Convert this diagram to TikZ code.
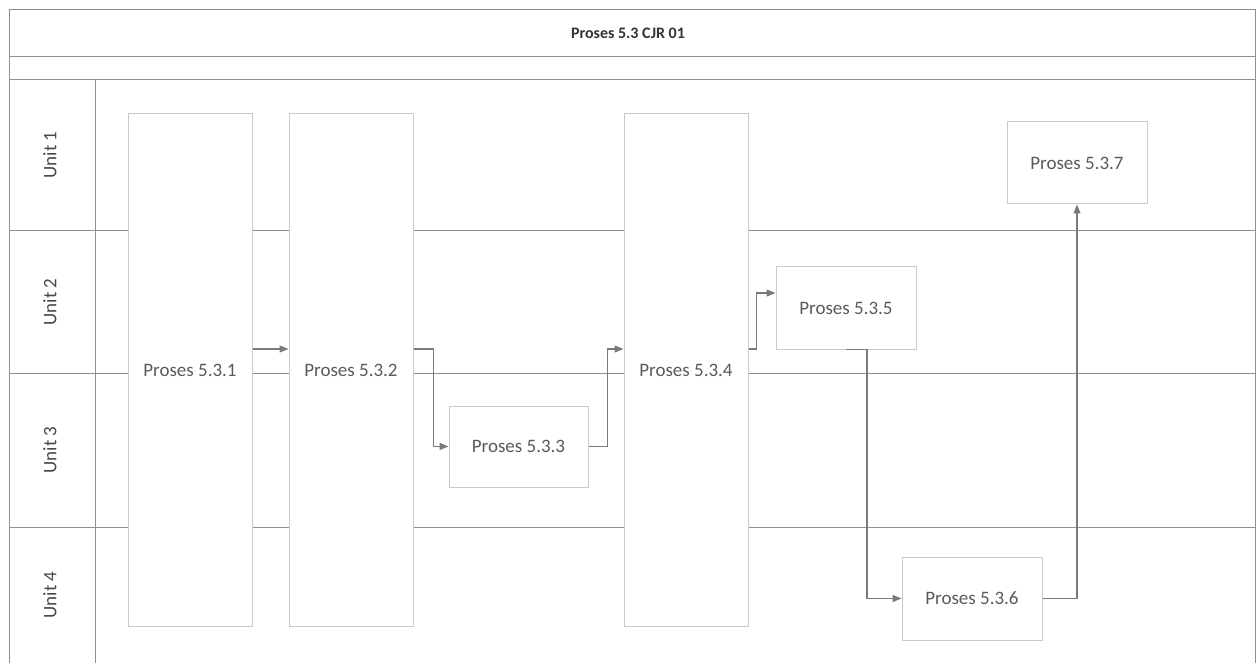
\documentclass[tikz,border=0pt]{standalone}
\usepackage{fontspec}
\setmainfont{Carlito}
\usetikzlibrary{arrows.meta}
\definecolor{lanegray}{HTML}{8E8E8E}
\definecolor{boxgray}{HTML}{CACACA}
\definecolor{arrgray}{HTML}{7A7A7A}
\definecolor{txtgray}{HTML}{5A5A5A}
\tikzset{
  lane/.style={draw=lanegray, line width=1pt},
  procbox/.style={draw=boxgray, fill=white, line width=1pt, inner sep=0pt,
    font=\fontsize{19}{23}\selectfont, text=txtgray},
  unitlabel/.style={rotate=90, font=\fontsize{19}{23}\selectfont, text=txtgray!80!black},
  arr/.style={draw=arrgray, line width=1.3pt, -{Triangle[length=9pt,width=7pt]}},
}
\begin{document}
\begin{tikzpicture}[x=1pt,y=-1pt]
\useasboundingbox (0,0) rectangle (1259,663);
% frame and lanes
\draw[lane] (9,663) -- (9,10) -- (1255,10) -- (1255,663);
\draw[lane] (9,57) -- (1255,57);
\draw[lane] (9,80) -- (1255,80);
\draw[lane] (95,80) -- (95,663);
\draw[lane] (9,231) -- (1255,231);
\draw[lane] (9,373) -- (1255,373);
\draw[lane] (9,527) -- (1255,527);
% title
\node[font=\fontsize{16}{19}\selectfont\bfseries, text=black!80] (title) at (628,33) {Proses 5.3 CJR 01};
% unit labels
\node[unitlabel] (u1) at (50,155) {Unit 1};
\node[unitlabel] (u2) at (50,302) {Unit 2};
\node[unitlabel] (u3) at (50,450) {Unit 3};
\node[unitlabel] (u4) at (50,595) {Unit 4};
% process boxes
\node[procbox, minimum width=124pt, minimum height=512pt] (p1) at (190,370) {Proses 5.3.1};
\node[procbox, minimum width=124pt, minimum height=512pt] (p2) at (351,370) {Proses 5.3.2};
\node[procbox, minimum width=139pt, minimum height=81pt] (p3) at (518.5,446.5) {Proses 5.3.3};
\node[procbox, minimum width=124pt, minimum height=512pt] (p4) at (686,370) {Proses 5.3.4};
\node[procbox, minimum width=140pt, minimum height=82pt] (p5) at (846,308) {Proses 5.3.5};
\node[procbox, minimum width=140pt, minimum height=83pt] (p6) at (972,598.5) {Proses 5.3.6};
\node[procbox, minimum width=140pt, minimum height=82pt] (p7) at (1077,163) {Proses 5.3.7};
% helper coordinates
\coordinate (r349) at (0,349);
\coordinate (r293) at (0,293);
% connectors
\draw[arr] (p1.east |- r349) -- (p2.west |- r349);
\draw[arr] (p2.east |- r349) -- ++(20,0) |- (p3.west);
\draw[arr] (p3.east) -- ++(19,0) |- (p4.west |- r349);
\draw[arr] (p4.east |- r349) -- ++(8,0) |- (p5.west |- r293);
\draw[arr] (p5.south) -- ++(21,0) |- (p6.west);
\draw[arr] (p6.east) -| (p7.south);
\end{tikzpicture}
\end{document}
